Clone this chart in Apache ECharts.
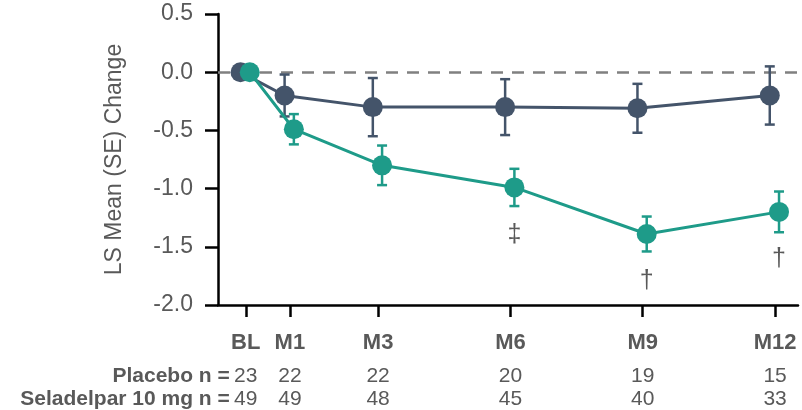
<!DOCTYPE html>
<html>
<head>
<meta charset="utf-8">
<script src="https://cdn.jsdelivr.net/npm/echarts@6/dist/echarts.min.js"></script>
<style>
  html, body { margin: 0; padding: 0; background: #fff; }
  #chart { width: 802px; height: 410px; }
</style>
</head>
<body>
<div id="chart"></div>
<script>
// Visit months (BL = baseline) and their axis labels
const months = [0, 1, 3, 6, 9, 12];
const tickLabels = ['BL', 'M1', 'M3', 'M6', 'M9', 'M12'];

// LS mean change and standard error per visit
const placeboMean = [0, -0.2, -0.3, -0.3, -0.31, -0.2];
const placeboSE   = [0, 0.18, 0.25, 0.24, 0.21, 0.25];
const seladelparMean = [0, -0.49, -0.8, -0.99, -1.39, -1.2];
const seladelparSE   = [0, 0.13, 0.17, 0.16, 0.15, 0.175];

// Significance markers under the seladelpar points
const seladelparMarks = ['', '', '', '‡', '†', '†'];

// Patients per visit
const placeboN = [23, 22, 22, 20, 19, 15];
const seladelparN = [49, 49, 48, 45, 40, 33];

// Y axis ticks
const yMin = -2.0, yMax = 0.5, yStep = 0.5;

const FONT = '"Liberation Sans", Arial, sans-serif';
const TEXT = '#595959';
const PLACEBO = '#44546a';
const SELADELPAR = '#1e9b89';

// small horizontal dodge so the two arms do not overlap
const dodgePlacebo = -0.12, dodgeSeladelpar = 0.09;

function points(mean, dodge) {
  return months.map((m, i) => [m + dodge, mean[i]]);
}
function errorRows(mean, se, dodge) {
  return months
    .map((m, i) => [m + dodge, mean[i] - se[i], mean[i] + se[i]])
    .filter((r, i) => se[i] > 0);
}

function errorBars(color) {
  return function (params, api) {
    const x = api.value(0);
    const top = api.coord([x, api.value(2)]);
    const bot = api.coord([x, api.value(1)]);
    const hw = 5;
    const style = { stroke: color, lineWidth: 2.5 };
    return {
      type: 'group',
      children: [
        { type: 'line', shape: { x1: top[0], y1: top[1], x2: bot[0], y2: bot[1] }, style },
        { type: 'line', shape: { x1: top[0] - hw, y1: top[1], x2: top[0] + hw, y2: top[1] }, style },
        { type: 'line', shape: { x1: bot[0] - hw, y1: bot[1], x2: bot[0] + hw, y2: bot[1] }, style }
      ]
    };
  };
}

const chart = echarts.init(document.getElementById('chart'), null, { renderer: 'canvas' });

const LABEL_MARGIN = 15;
const HEAD_LINE = 45;
const ROW_LINE = 23;

const option = {
  animation: false,
  textStyle: { fontFamily: FONT },
  grid: { left: 218, right: 4, top: 14, bottom: 100, containLabel: false },
  xAxis: {
    type: 'value',
    min: -0.63,
    max: 12.52,
    axisLine: { show: true, onZero: false, lineStyle: { color: '#000', width: 2.5 } },
    axisTick: { show: true, customValues: months, length: 12, lineStyle: { color: '#000', width: 2.5 } },
    splitLine: { show: false },
    axisLabel: {
      customValues: months,
      margin: LABEL_MARGIN,
      formatter: function (val) {
        const i = months.indexOf(val);
        if (i < 0) return '';
        return '{m|' + tickLabels[i] + '}\n{n|' + placeboN[i] + '}\n{n|' + seladelparN[i] + '}';
      },
      rich: {
        m: { fontFamily: FONT, fontSize: 22, fontWeight: 'bold', color: TEXT, lineHeight: HEAD_LINE },
        n: { fontFamily: FONT, fontSize: 21, color: TEXT, lineHeight: ROW_LINE }
      }
    }
  },
  yAxis: {
    type: 'value',
    min: yMin,
    max: yMax,
    interval: yStep,
    name: 'LS Mean (SE) Change',
    nameLocation: 'middle',
    nameRotate: 90,
    nameGap: 92,
    nameTextStyle: { fontFamily: FONT, fontSize: 23, color: TEXT },
    axisLine: { show: true, onZero: false, lineStyle: { color: '#000', width: 2.5 } },
    axisTick: { show: true, length: 13, lineStyle: { color: '#000', width: 2.5 } },
    splitLine: { show: false },
    axisLabel: {
      margin: 25,
      fontFamily: FONT,
      fontSize: 23,
      color: TEXT,
      formatter: v => v.toFixed(1)
    }
  },
  series: [
    {
      type: 'custom',
      name: 'Placebo SE',
      renderItem: errorBars(PLACEBO),
      encode: { x: 0, y: [1, 2] },
      data: errorRows(placeboMean, placeboSE, dodgePlacebo),
      z: 2,
      silent: true
    },
    {
      type: 'line',
      name: 'Placebo',
      data: points(placeboMean, dodgePlacebo),
      symbol: 'circle',
      symbolSize: 20,
      lineStyle: { color: PLACEBO, width: 3 },
      itemStyle: { color: PLACEBO },
      z: 3,
      silent: true,
      markLine: {
        silent: true,
        symbol: 'none',
        label: { show: false },
        lineStyle: { color: '#808080', width: 2.5, type: [12, 9] },
        data: [{ yAxis: 0 }],
        z: 1
      }
    },
    {
      type: 'custom',
      name: 'Seladelpar SE',
      renderItem: errorBars(SELADELPAR),
      encode: { x: 0, y: [1, 2] },
      data: errorRows(seladelparMean, seladelparSE, dodgeSeladelpar),
      z: 4,
      silent: true
    },
    {
      type: 'line',
      name: 'Seladelpar 10 mg',
      data: points(seladelparMean, dodgeSeladelpar).map((p, i) => ({
        value: p,
        label: seladelparMarks[i]
          ? { show: true, formatter: seladelparMarks[i], position: 'bottom', distance: 25,
              fontFamily: FONT, fontSize: 25, color: TEXT }
          : { show: false }
      })),
      symbol: 'circle',
      symbolSize: 20,
      lineStyle: { color: SELADELPAR, width: 3 },
      itemStyle: { color: SELADELPAR },
      z: 5,
      silent: true
    }
  ]
};

chart.setOption(option);

// Row headers for the patient counts, right-aligned just left of the BL column
const blX = chart.convertToPixel({ xAxisIndex: 0 }, 0);
const axisY = chart.convertToPixel({ yAxisIndex: 0 }, yMin);
const rowTop = axisY + LABEL_MARGIN + HEAD_LINE;
chart.setOption({
  graphic: [
    {
      type: 'text',
      x: blX - 16, y: rowTop + ROW_LINE / 2,
      style: { text: 'Placebo n =', align: 'right', verticalAlign: 'middle',
               font: 'bold 21px ' + FONT, fill: TEXT }
    },
    {
      type: 'text',
      x: blX - 16, y: rowTop + ROW_LINE * 1.5,
      style: { text: 'Seladelpar 10 mg n =', align: 'right', verticalAlign: 'middle',
               font: 'bold 21px ' + FONT, fill: TEXT }
    }
  ]
});
</script>
</body>
</html>
